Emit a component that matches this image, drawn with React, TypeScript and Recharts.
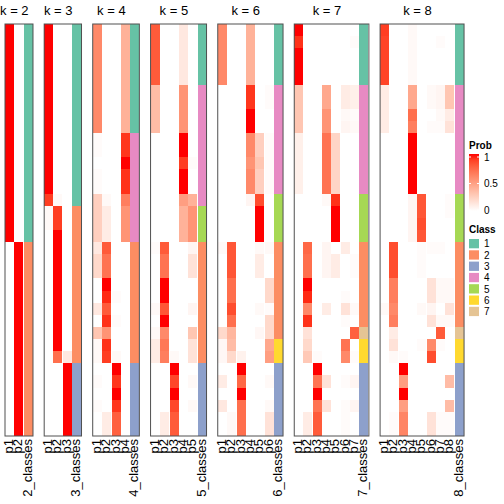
import React from 'react';
import { BarChart, Bar, XAxis, YAxis, Cell } from 'recharts';

// ---------- data (34 samples, top to bottom) ----------
const K_VALUES = [2, 3, 4, 5, 6, 7, 8];

const k2_p1 = [1,1,1,1,1,1,1,1,1,1,1,1,1,1,1,1,1,1, 0,0,0,0,0,0,0,0,0,0,0,0,0,0,0,0];
const k2_p2 = [0,0,0,0,0,0,0,0,0,0,0,0,0,0,0,0,0,0, 1,1,1,1,1,1,1,1,1,1,1,1,1,1,1,1];
const k2_class = [1,1,1,1,1,1,1,1,1,1,1,1,1,1,1,1,1,1, 2,2,2,2,2,2,2,2,2,2,2,2,2,2,2,2];

const k3_p1 = [1,1,1,1,1,1,1,1,1,1,1,1,1,1,0.9,0.03,0.03,0,0,0,0,0,0,0,0,0,0,0,0,0,0,0,0,0];
const k3_p2 = [0,0,0,0,0,0,0,0,0,0,0,0,0,0,0.03,0.9,0.9,1,1,1,1,1,1,1,1,1,1,0.72,0,0,0,0,0,0];
const k3_p3 = [0,0,0,0,0,0,0,0,0,0,0,0,0,0,0,0,0,0,0,0,0,0,0,0,0,0,0,0.12,1,1,1,1,1,1];
const k3_class = [1,1,1,1,1,1,1,1,1,1,1,1,1,1,1,2,2,2,2,2,2,2,2,2,2,2,2,2,3,3,3,3,3,3];

const k4_p1 = [0.6,0.6,0.6,0.6,0.6,0.6,0.6,0.6,0.6,0.02,0.02,0,0.02,0.02,0.25,0.25,0.25,0.25,0.12,0.2,0.2,0,0,0.12,0,0.3,0.03,0.03,0,0.02,0,0.02,0,0];
const k4_p2 = [0,0,0,0,0,0,0,0,0,0,0,0,0,0,0.03,0.1,0.1,0.1,0.8,0.7,0.7,1,0.95,0.8,0.93,0.55,0.93,0.9,0,0,0,0,0.1,0.1];
const k4_p3 = [0,0,0,0,0,0,0,0,0,0,0,0,0,0,0,0,0,0,0,0,0,0,0.02,0,0.02,0,0,0.03,1,0.92,1,0.92,0.78,0.78];
const k4_p4 = [0.4,0.4,0.4,0.4,0.4,0.4,0.4,0.4,0.4,0.92,0.92,1,0.93,0.93,0.65,0.55,0.55,0.55,0,0,0,0,0,0,0,0,0,0,0,0,0,0,0,0];
const k4_class = [1,1,1,1,1,1,1,1,1,4,4,4,4,4,4,4,4,4,2,2,2,2,2,2,2,2,2,2,3,3,3,3,3,3];

const k5_p1 = [0.8,0.8,0.8,0.8,0.8,0.35,0.35,0.35,0.35,0,0,0,0,0,0,0,0,0,0.02,0,0,0,0,0.03,0,0.03,0.1,0.1,0,0,0,0,0,0];
const k5_p2 = [0,0,0,0,0,0,0,0,0,0,0,0,0,0,0,0,0,0,0.8,0.7,0.7,1,1,0.82,1,0.6,0.68,0.65,0,0,0,0,0.1,0.1];
const k5_p3 = [0,0,0,0,0,0,0,0,0,0,0,0,0,0,0,0,0,0,0,0,0,0,0,0,0,0,0,0.03,1,0.87,1,0.87,0.8,0.8];
const k5_p4 = [0.12,0.12,0.12,0.12,0.12,0.55,0.55,0.55,0.55,1,1,0.9,1,1,0.5,0.4,0.4,0.4,0,0,0,0,0,0,0,0,0,0,0,0,0,0,0,0];
const k5_p5 = [0,0,0,0,0,0,0,0,0,0,0,0.02,0,0,0.4,0.55,0.55,0.55,0.05,0.15,0.15,0,0,0.05,0,0.3,0.15,0.15,0,0.03,0,0.03,0,0];
const k5_class = [1,1,1,1,1,4,4,4,4,4,4,4,4,4,4,5,5,5,2,2,2,2,2,2,2,2,2,2,3,3,3,3,3,3];

const k6_p1 = [0.6,0.6,0.6,0.6,0.6,0,0,0,0,0,0,0,0,0,0,0,0,0,0.03,0,0,0,0,0,0,0.2,0.04,0.04,0,0.1,0,0.12,0,0];
const k6_p2 = [0,0,0,0,0,0,0,0,0,0,0,0,0,0,0,0,0,0,0.82,0.82,0.82,0.72,0.72,0.85,0.72,0.38,0.35,0.2,0,0,0,0,0.03,0.03];
const k6_p3 = [0,0,0,0,0,0,0,0,0,0,0,0,0,0,0,0,0,0,0,0,0,0,0,0,0,0,0,0.07,1,0.75,1,0.72,0.72,0.72];
const k6_p4 = [0.4,0.4,0.4,0.4,0.4,0.92,0.92,1,1,0.6,0.6,0.55,0.6,0.6,0.05,0,0,0,0,0,0,0,0,0,0,0,0,0,0,0,0,0,0,0];
const k6_p5 = [0,0,0,0,0,0,0,0,0,0.25,0.25,0.3,0.25,0.25,0.85,1,1,1,0.03,0.1,0.1,0,0,0.03,0,0.04,0,0,0,0,0,0,0,0];
const k6_p6 = [0,0,0,0,0,0.02,0.02,0,0,0.02,0.02,0.02,0.02,0.02,0,0,0,0,0.03,0,0,0.2,0.2,0.02,0.2,0.2,0.45,0.5,0,0.03,0,0.03,0.15,0.15];
const k6_class = [1,1,1,1,1,4,4,4,4,4,4,4,4,4,5,5,5,5,2,2,2,2,2,2,2,2,6,6,3,3,3,3,3,3];

const k7_p1 = [1,0.93,1,1,1,0.3,0.3,0.3,0.3,0.08,0.08,0.08,0.08,0.08,0,0,0,0,0,0,0,0,0,0,0,0,0,0,0,0,0,0,0,0];
const k7_p2 = [0,0,0,0,0,0,0,0,0,0,0,0,0,0,0,0,0,0,0.75,0.72,0.72,1,0.95,0.6,0.93,0.15,0.2,0.28,0,0,0,0,0.1,0.1];
const k7_p3 = [0,0,0,0,0,0,0,0,0,0,0,0,0,0,0,0,0,0,0,0,0,0,0,0,0,0,0,0.02,1,0.7,1,0.7,0.8,0.8];
const k7_p4 = [0,0,0,0,0,0.45,0.45,0.55,0.55,0.7,0.7,0.7,0.7,0.7,0.03,0,0,0,0.05,0.05,0.05,0,0,0.1,0,0,0,0,0,0.15,0,0.15,0,0];
const k7_p5 = [0,0,0,0,0,0,0,0,0,0.22,0.22,0.22,0.22,0.22,0.93,1,1,1,0,0.1,0.1,0,0,0,0,0,0,0,0,0,0,0,0,0];
const k7_p6 = [0,0,0,0,0,0.1,0.1,0.03,0.05,0,0,0,0,0,0,0,0,0,0.1,0,0,0,0.02,0.15,0.02,0,0.7,0.6,0,0.02,0,0.02,0.02,0.02];
const k7_p7 = [0,0.02,0,0,0,0.08,0.08,0.02,0.03,0,0,0,0,0,0,0,0,0,0,0.02,0.02,0,0,0.03,0,0.78,0,0.02,0,0.05,0,0.05,0,0];
const k7_class = [1,1,1,1,1,4,4,4,4,4,4,4,4,4,5,5,5,5,2,2,2,2,2,2,2,7,6,6,3,3,3,3,3,3];

const k8_p1 = [0.9,0.88,0.88,0.88,0.88,0.1,0.1,0.1,0.1,0,0,0,0,0,0,0,0,0,0,0,0,0,0,0.03,0,0,0,0,0,0,0,0,0,0];
const k8_p2 = [0,0,0,0,0,0,0,0,0,0,0,0,0,0,0,0,0,0,0.85,0.85,0.85,0.65,0.65,0.6,0.65,0.1,0.15,0.03,0,0,0,0,0.02,0.02];
const k8_p3 = [0,0,0,0,0,0,0,0,0,0,0,0,0,0,0,0,0,0,0,0,0,0,0,0,0,0,0,0.02,1,0.5,1,0.5,0.62,0.62];
const k8_p4 = [0.03,0.03,0.03,0.03,0.03,0.45,0.45,0.72,0.65,1,1,1,1,1,0.05,0.05,0.05,0.05,0,0,0,0,0,0,0,0,0,0,0,0,0,0,0,0];
const k8_p5 = [0,0,0,0,0,0,0,0,0,0,0,0,0,0,0.82,0.82,0.85,0.82,0.02,0.02,0.02,0,0,0.03,0,0,0.02,0,0,0,0,0,0,0];
const k8_p6 = [0,0,0,0,0,0.03,0.03,0,0.02,0,0,0,0,0,0,0,0,0,0.02,0,0,0.15,0.15,0.05,0.15,0,0.6,0.85,0,0,0,0,0.15,0.15];
const k8_p7 = [0,0.02,0,0,0,0.05,0.05,0.03,0.02,0,0,0,0,0,0,0,0,0,0.02,0,0,0.03,0.03,0,0.03,0.8,0.02,0,0,0,0,0,0.02,0.02];
const k8_p8 = [0,0,0,0,0,0.3,0.3,0.1,0.15,0,0,0,0,0,0.02,0.02,0,0,0,0,0,0.03,0.03,0.15,0.03,0,0,0,0,0.35,0,0.35,0.02,0.02];
const k8_class = [1,1,1,1,1,4,4,4,4,4,4,4,4,4,5,5,5,5,2,2,2,2,2,2,2,7,6,6,3,3,3,3,3,3];

const PROBS: number[][][] = [
  [k2_p1, k2_p2],
  [k3_p1, k3_p2, k3_p3],
  [k4_p1, k4_p2, k4_p3, k4_p4],
  [k5_p1, k5_p2, k5_p3, k5_p4, k5_p5],
  [k6_p1, k6_p2, k6_p3, k6_p4, k6_p5, k6_p6],
  [k7_p1, k7_p2, k7_p3, k7_p4, k7_p5, k7_p6, k7_p7],
  [k8_p1, k8_p2, k8_p3, k8_p4, k8_p5, k8_p6, k8_p7, k8_p8],
];
const CLASSES: number[][] = [k2_class, k3_class, k4_class, k5_class, k6_class, k7_class, k8_class];

const CLASS_LABELS = ['1', '2', '3', '4', '5', '6', '7'];
const PROB_TICKS = [1, 0.5, 0];

// ---------- styling ----------
const CLASS_COLORS = ['#66C2A5', '#FC8D62', '#8DA0CB', '#E78AC3', '#A6D854', '#FFD92F', '#E5C494'];
const FONT = '"Liberation Sans", Arial, Helvetica, sans-serif';
const COL_W = 9.33;
const PANEL_GAP = 11.2;
const START_X = 5;
const TOP = 24;
const BOTTOM = 436;

function probColor(v: number): string {
  // LAB interpolation between white and red
  const L = 100 + (53.24 - 100) * v;
  const A = 80.09 * v;
  const B = 67.2 * v;
  const fy = (L + 16) / 116;
  const fx = fy + A / 500;
  const fz = fy - B / 200;
  const inv = (t: number) => (t > 6 / 29 ? t * t * t : 3 * (6 / 29) * (6 / 29) * (t - 4 / 29));
  const X = 0.95047 * inv(fx);
  const Y = 1.0 * inv(fy);
  const Z = 1.08883 * inv(fz);
  const r = 3.2406 * X - 1.5372 * Y - 0.4986 * Z;
  const g = -0.9689 * X + 1.8758 * Y + 0.0415 * Z;
  const b = 0.0557 * X - 0.204 * Y + 1.057 * Z;
  const gam = (c: number) => {
    const cc = c <= 0.0031308 ? 12.92 * c : 1.055 * Math.pow(c, 1 / 2.4) - 0.055;
    return Math.round(Math.max(0, Math.min(1, cc)) * 255);
  };
  return `rgb(${gam(r)},${gam(g)},${gam(b)})`;
}

function panelX(idx: number): number {
  let x = START_X;
  for (let i = 0; i < idx; i++) x += (K_VALUES[i] + 1) * COL_W + PANEL_GAP;
  return x;
}

const RotTick = (props: any) => {
  const { x, y, payload } = props;
  const bx = x + 3.4;
  return (
    <text x={bx} y={y} transform={`rotate(-90 ${bx} ${y})`} textAnchor="end" fontSize={13} fontFamily={FONT} fill="#000">
      {payload.value}
    </text>
  );
};

function Panel({ idx }: { idx: number }) {
  const k = K_VALUES[idx];
  const probs = PROBS[idx];
  const cls = CLASSES[idx];
  const nRows = cls.length;
  const cols = [...probs.map((_, j) => `p${j + 1}`), `${k}_classes`];
  const table = cols.map((name) => {
    const row: any = { col: name };
    for (let i = 0; i < nRows; i++) row[`r${i}`] = 1;
    return row;
  });
  const fillFor = (c: number, r: number) =>
    c < probs.length ? probColor(probs[c][r]) : CLASS_COLORS[cls[r] - 1];
  const w = (k + 1) * COL_W;
  const x0 = panelX(idx);
  return (
    <div className="hm-panel" style={{ position: 'absolute', left: x0 - 1, top: 0, shapeRendering: 'crispEdges' } as any}>
      <BarChart
        width={w + 2}
        height={504}
        data={table}
        margin={{ top: TOP, right: 1, left: 1, bottom: 0 }}
        barCategoryGap={0}
        barGap={0}
      >
        <XAxis
          dataKey="col"
          type="category"
          height={504 - BOTTOM}
          tickLine={false}
          axisLine={false}
          tickSize={0}
          tickMargin={3}
          interval={0}
          tick={<RotTick />}
        />
        <YAxis type="number" domain={[0, nRows]} hide reversed allowDataOverflow />
        {Array.from({ length: nRows }, (_, r) => (
          <Bar key={r} dataKey={`r${r}`} stackId="s" isAnimationActive={false} stroke="none">
            {table.map((_, c) => (
              <Cell key={c} fill={fillFor(c, r)} />
            ))}
          </Bar>
        ))}
      </BarChart>
    </div>
  );
}

export default function App() {
  const gradStops = Array.from({ length: 11 }, (_, i) => i / 10);
  const gTop = 157;
  const gBot = 210;
  return (
    <div style={{ position: 'absolute', left: 0, top: 0, width: 504, height: 504, background: '#fff', overflow: 'hidden' }}>
      <style>{`.hm-panel svg, .hm-panel .recharts-wrapper { overflow: visible !important; }`}</style>
      {K_VALUES.map((_, idx) => (
        <Panel key={idx} idx={idx} />
      ))}
      <svg width={504} height={504} style={{ position: 'absolute', left: 0, top: 0, pointerEvents: 'none' }}>
        <defs>
          <linearGradient id="probGrad" x1="0" y1="0" x2="0" y2="1">
            {gradStops.map((s) => (
              <stop key={s} offset={s} stopColor={probColor(1 - s)} />
            ))}
          </linearGradient>
        </defs>
        {K_VALUES.map((k, idx) => {
          const x0 = panelX(idx);
          const w = (k + 1) * COL_W;
          return (
            <g key={k}>
              <rect x={x0} y={TOP} width={w} height={BOTTOM - TOP} fill="none" stroke="#505050" strokeWidth={1} />
              <text x={x0 + (k * COL_W) / 2} y={15} textAnchor="middle" fontSize={13} fontFamily={FONT} fill="#000">
                {`k = ${k}`}
              </text>
            </g>
          );
        })}
        {/* legend: Prob */}
        <text x={469} y={149} fontSize={10} fontWeight="bold" fontFamily={FONT} fill="#000">Prob</text>
        <rect x={469} y={gTop - 3} width={10} height={gBot - gTop + 4} fill="url(#probGrad)" />
        {PROB_TICKS.map((t) => {
          const y = gBot - (gBot - gTop) * t;
          return (
            <g key={t}>
              <line x1={469} x2={471} y1={y} y2={y} stroke="#fff" strokeWidth={1} />
              <line x1={477} x2={479} y1={y} y2={y} stroke="#fff" strokeWidth={1} />
              <text x={484} y={y + 3.5} fontSize={10} fontFamily={FONT} fill="#000">{String(t)}</text>
            </g>
          );
        })}
        {/* legend: Class */}
        <text x={469} y={233} fontSize={10} fontWeight="bold" fontFamily={FONT} fill="#000">Class</text>
        {CLASS_LABELS.map((lab, i) => {
          const y = 239 + i * 11.3;
          return (
            <g key={lab}>
              <rect x={469} y={y} width={10} height={9.3} fill={CLASS_COLORS[i]} />
              <text x={484} y={y + 8.3} fontSize={10} fontFamily={FONT} fill="#000">{lab}</text>
            </g>
          );
        })}
      </svg>
    </div>
  );
}
